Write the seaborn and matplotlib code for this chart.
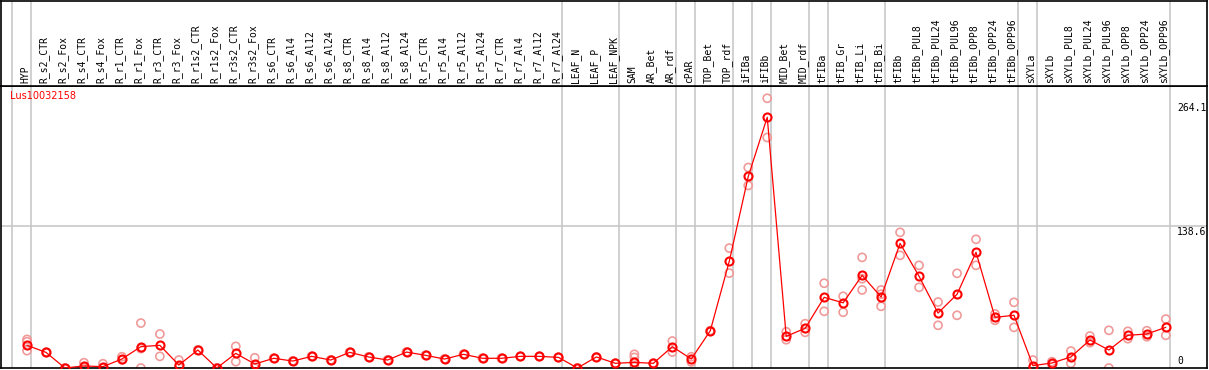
import pandas as pd
import numpy as np

import seaborn as sns
import matplotlib.pyplot as plt
import matplotlib.transforms as mtransforms

gene_name = "Lus10032158"

samples = [
    "HYP", "R_s2_CTR", "R_s2_Fox", "R_s4_CTR", "R_s4_Fox", "R_r1_CTR", "R_r1_Fox",
    "R_r3_CTR", "R_r3_Fox", "R_r1s2_CTR", "R_r1s2_Fox", "R_r3s2_CTR", "R_r3s2_Fox",
    "R_s6_CTR", "R_s6_Al4", "R_s6_Al12", "R_s6_Al24", "R_s8_CTR", "R_s8_Al4",
    "R_s8_Al12", "R_s8_Al24", "R_r5_CTR", "R_r5_Al4", "R_r5_Al12", "R_r5_Al24",
    "R_r7_CTR", "R_r7_Al4", "R_r7_Al12", "R_r7_Al24", "LEAF_N", "LEAF_P", "LEAF_NPK",
    "SAM", "AR_Bet", "AR_rdf", "cPAR", "TOP_Bet", "TOP_rdf", "iFIBa", "iFIBb",
    "MID_Bet", "MID_rdf", "tFIBa", "tFIB_Gr", "tFIB_Li", "tFIB_Bi", "tFIBb",
    "tFIBb_PUL8", "tFIBb_PUL24", "tFIBb_PUL96", "tFIBb_OPP8", "tFIBb_OPP24",
    "tFIBb_OPP96", "sXYLa", "sXYLb", "sXYLb_PUL8", "sXYLb_PUL24", "sXYLb_PUL96",
    "sXYLb_OPP8", "sXYLb_OPP24", "sXYLb_OPP96",
]

mean_expr = [
    22.2, 15.3, 0, 2, 1.3, 8.8, 20.9, 22.2, 2.9, 17.6, 0, 14.3, 3.9,
    9.5, 6.8, 11.4, 7.8, 15.3, 10.8, 7.8, 15.6, 12.4, 8.8, 13.4, 9.5,
    9.5, 11.4, 11.4, 10.4, 0, 10.8, 4.6,
    5.5, 4.6, 20.9, 8.8, 36.5, 104.5, 187.5, 245.5,
    31, 38.9, 69.2, 63.8, 90.7, 69.5, 122,
    89.8, 53.8, 72.2, 113.3, 49.6, 51.6,
    2.3, 4.9, 10.8, 27.4, 17.6, 32, 33.3, 39.8,
]

replicates = [
    [28, 25.7, 17], [15.3, 15.3], [0, 0], [5.2, 0], [4.2, 0], [11, 8], [44, 0, 19],
    [33.3, 11.4], [7.8, 1], [17.6, 17.6], [0, 0], [21.2, 6.2], [10, 0],
    [9.5, 9.5], [6.8, 6.8], [11.4, 11.4], [7.8, 7.8], [15.3, 15.3], [10.8, 10.8],
    [7.8, 7.8], [15.6, 15.6], [12.4, 12.4], [8.8, 8.8], [13.4, 13.4], [9.5, 9.5],
    [9.5, 9.5], [11.4, 11.4], [11.4, 11.4], [10.4, 10.4], [0, 0], [10.8, 10.8], [4.6, 4.6],
    [13.4, 10.4, 1.3], [4.6, 4.6], [26.4, 15.6], [11, 5.9], [36.5, 36.5],
    [117.4, 92.9], [196.3, 178.7], [264.1, 225.7],
    [35.5, 27.7], [43.4, 34.9], [83, 55.5], [70.2, 54.6], [108.3, 76.4, 87.4],
    [76.4, 60.4, 72.2], [132.8, 110.3],
    [100.5, 79], [64.6, 41.8], [92.7, 51.6], [126, 100.5], [52.9, 46.7], [64.3, 39.8],
    [7.8, 0], [6.2, 3.5], [16.6, 4.6], [31.3, 24.8], [36.9, 0], [35.9, 28.7],
    [36.5, 30.6], [47.9, 32],
]

# index of the last sample in each group (separator drawn after it)
group_ends = [-1, 0, 28, 31, 34, 35, 37, 38, 39, 41, 42, 45, 52, 53, 60]
axis_marks = [264.1, 138.6, 0]

W, H = 1209, 370
sns.set_style("white")
plt.rcParams["font.family"] = ["DejaVu Sans"]
plt.rcParams["text.color"] = "black"

fig = plt.figure(figsize=(W / 100, H / 100), dpi=100)
ax = fig.add_axes([1 / W, (H - 368) / H, 1206 / W, (368 - 86) / H])
hax = fig.add_axes([1 / W, (H - 86) / H, 1206 / W, 85 / H])

xlim = (-1.37, 62.17)
for a in (ax, hax):
    a.set_xlim(*xlim)
    a.set_xticks([])
    a.set_yticks([])
    for s in a.spines.values():
        s.set_color("black")
        s.set_linewidth(1.2)
    for g in group_ends:
        a.axvline(g + 0.21, color="#c4c4c4", lw=1.1, zorder=0)
ax.set_ylim(0, 276.1)
hax.set_ylim(0, 1)

ax.axhline(138.6, color="#c4c4c4", lw=1.1, zorder=0)

pos = np.arange(len(samples))
rep_df = pd.DataFrame(
    [(i, v) for i, vals in enumerate(replicates) for v in vals],
    columns=["pos", "value"],
)
sns.scatterplot(data=rep_df, x="pos", y="value", ax=ax, marker="o", s=34,
                facecolor="none", edgecolor="#f09a9a", linewidth=1.2, zorder=2)
sns.lineplot(x=pos, y=mean_expr, ax=ax, color="#ff0000", lw=0.9, marker="o",
             markersize=5.8, markerfacecolor="none", markeredgecolor="#ff0000",
             markeredgewidth=1.5, zorder=3)
ax.set_xlabel("")
ax.set_ylabel("")

# sample names in the header
lab_off = mtransforms.offset_copy(hax.transData, fig=fig, x=-2, y=3, units="dots")
for i, name in enumerate(samples):
    hax.text(i, 0, name, rotation=90, ha="center", va="bottom", fontsize=7,
             family="DejaVu Sans Mono", color="black", transform=lab_off)

ax.text(9 / 1206, (368 - 96) / 282, gene_name, transform=ax.transAxes,
        color="#ff0000", fontsize=7, va="center", ha="left")

lab_x = (1177 - 1) / 1206
tr = mtransforms.blended_transform_factory(ax.transAxes, ax.transData)
for v, dy, va in zip(axis_marks, [-5, -1, 2], ["top", "top", "bottom"]):
    t = mtransforms.offset_copy(tr, fig=fig, x=0, y=dy, units="dots")
    ax.text(lab_x, v, f"{v:g}", transform=t, fontsize=7, color="black",
            family="DejaVu Sans Mono", ha="left", va=va)

fig.savefig("out.png", dpi=100)
